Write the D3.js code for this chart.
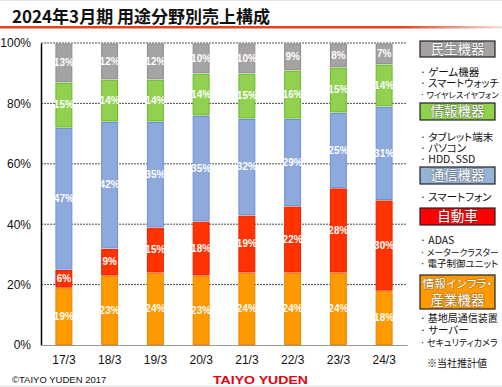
<!DOCTYPE html>
<html>
<head>
<meta charset="utf-8">
<script src="https://cdn.jsdelivr.net/npm/d3@7"></script>
<style>
  html, body { margin: 0; padding: 0; background: #fff; }
  svg { display: block; }
  .jp { font-feature-settings: "palt"; }
</style>
</head>
<body>
<svg id="chart" width="502" height="387"></svg>
<script>
// -------------- DATA ----------------- //
const years = ["17/3", "18/3", "19/3", "20/3", "21/3", "22/3", "23/3", "24/3"];
// stacked bottom -> top
const infraShare    = [19, 23, 24, 23, 24, 24, 24, 18]; // 情報インフラ・産業機器
const autoShare     = [6, 9, 15, 18, 19, 22, 28, 30];   // 自動車
const commShare     = [47, 42, 35, 35, 32, 29, 25, 31]; // 通信機器
const infoShare     = [15, 14, 14, 14, 15, 16, 15, 14]; // 情報機器
const consumerShare = [13, 12, 12, 10, 10, 9, 8, 7];    // 民生機器
const yTicks = [0, 20, 40, 60, 80, 100];

const legendGroups = [
  { key: "consumer", label: ["民生機器"], items: ["ゲーム機器", "スマートウォッチ", "ワイヤレスイヤフォン"] },
  { key: "info", label: ["情報機器"], items: ["タブレット端末", "パソコン", "HDD、SSD"] },
  { key: "comm", label: ["通信機器"], items: ["スマートフォン"] },
  { key: "auto", label: ["自動車"], items: ["ADAS", "メータークラスター", "電子制御ユニット"] },
  { key: "infra", label: ["情報インフラ・", "産業機器"], items: ["基地局通信装置", "サーバー", "セキュリティカメラ"] }
];

// -------------- STYLE ----------------- //
const series = [
  { key: "infra", values: infraShare, fill: "#ff9900", stroke: "#f08400" },
  { key: "auto", values: autoShare, fill: "#ff3300", stroke: "#e82000" },
  { key: "comm", values: commShare, fill: "#8eaadc", stroke: "#6a90d6" },
  { key: "info", values: infoShare, fill: "#92d050", stroke: "#66b82a" },
  { key: "consumer", values: consumerShare, fill: "#a6a3a3", stroke: "#8f8b8b" }
];
const boxFill = { consumer: "#a6a2a2", info: "#8ed24c", comm: "#95b3d7", auto: "#ff0000", infra: "#ff9900" };

const FONT = "'Liberation Sans', Arial, 'Noto Sans CJK JP', sans-serif";
const JP = "'Noto Sans CJK JP', 'Liberation Sans', sans-serif";

const svg = d3.select("#chart");

// -------------- TITLE ----------------- //
svg.append("rect").attr("x", 0).attr("y", 0).attr("width", 502).attr("height", 1).attr("fill", "#e4e4e4");
svg.append("text")
  .attr("x", 12).attr("y", 23)
  .attr("font-family", JP).attr("font-size", 17).attr("font-weight", "bold")
  .attr("fill", "#111")
  .text("2024年3月期 用途分野別売上構成");

const grad = svg.append("defs").append("linearGradient").attr("id", "titleLine");
grad.append("stop").attr("offset", "0").attr("stop-color", "#e2421e");
grad.append("stop").attr("offset", "0.8").attr("stop-color", "#e2421e");
grad.append("stop").attr("offset", "1").attr("stop-color", "#eee2de");
svg.append("rect").attr("x", 0).attr("y", 26).attr("width", 502).attr("height", 2.5).attr("fill", "url(#titleLine)");

// -------------- SCALES ----------------- //
const x = d3.scaleBand().domain(years).range([41, 407]).paddingInner(0.63).paddingOuter(0.315);
const y = d3.scaleLinear().domain([0, 100]).range([345, 43]);

// gridlines
svg.append("g").selectAll("line")
  .data(yTicks.filter(d => d > 0))
  .join("line")
  .attr("x1", 41).attr("x2", 407)
  .attr("y1", d => y(d)).attr("y2", d => y(d))
  .attr("stroke", "#222").attr("stroke-width", 0.8).attr("stroke-dasharray", "2,1");

// -------------- BARS ----------------- //
const stacked = years.map((yr, i) => {
  let cum = 0;
  return series.map(s => {
    const seg = { year: yr, key: s.key, v: s.values[i], y0: cum, y1: cum + s.values[i], fill: s.fill, stroke: s.stroke };
    cum += s.values[i];
    return seg;
  });
}).flat();

const bw = x.bandwidth();
svg.append("g").selectAll("rect")
  .data(stacked)
  .join("rect")
  .attr("x", d => x(d.year) + 0.5)
  .attr("width", bw - 1)
  .attr("y", d => y(d.y1) + 1)
  .attr("height", d => Math.max(0, y(d.y0) - y(d.y1) - 1.5))
  .attr("fill", d => d.fill)
  .attr("stroke", d => d.stroke)
  .attr("stroke-width", 1);

svg.append("g").selectAll("text")
  .data(stacked)
  .join("text")
  .attr("x", d => x(d.year) + bw / 2)
  .attr("y", d => (y(d.y0) + y(d.y1)) / 2)
  .attr("dy", "0.35em")
  .attr("text-anchor", "middle")
  .attr("font-family", FONT).attr("font-size", 10).attr("font-weight", "bold")
  .attr("fill", "#fff")
  .text(d => d.v + "%");

// -------------- AXES ----------------- //
const yAxis = svg.append("g")
  .attr("transform", "translate(41,0)")
  .call(d3.axisLeft(y).tickValues(yTicks).tickFormat(d => d + "%").tickSize(0).tickPadding(10));
yAxis.select(".domain").attr("stroke", "#000").attr("stroke-width", 1.5);
yAxis.selectAll("text").attr("font-family", FONT).attr("font-size", 12).attr("fill", "#111");

const xAxis = svg.append("g")
  .attr("transform", "translate(0,345)")
  .call(d3.axisBottom(x).tickSize(0).tickPadding(10));
xAxis.select(".domain").attr("stroke", "#999").attr("stroke-width", 1.2);
xAxis.selectAll("text").attr("font-family", FONT).attr("font-size", 12).attr("fill", "#111");

// -------------- LEGEND ----------------- //
const boxY = { consumer: 41, info: 103, comm: 167, auto: 208, infra: 275 };
const boxH = { consumer: 16, info: 17, comm: 17, auto: 17, infra: 34 };
const itemY = {
  consumer: [76, 87, 98],
  info: [141, 152, 163],
  comm: [201],
  auto: [244, 256, 267],
  infra: [322, 334, 346]
};

// shrink the font until the text fits the given width
function fitText(t, size, maxW) {
  let fs = size;
  t.attr("font-size", fs);
  while (t.node().getComputedTextLength() > maxW && fs > 6) {
    fs -= 0.25;
    t.attr("font-size", fs);
  }
}

const legend = svg.append("g");
legendGroups.forEach(g => {
  legend.append("rect")
    .attr("x", 420).attr("y", boxY[g.key])
    .attr("width", 75).attr("height", boxH[g.key])
    .attr("fill", boxFill[g.key])
    .attr("stroke", "#222").attr("stroke-width", 1.2);
  g.label.forEach((line, j) => {
    const lineY = g.label.length === 1
      ? boxY[g.key] + boxH[g.key] / 2
      : boxY[g.key] + 9 + j * 16;
    const t = legend.append("text")
      .attr("class", "jp")
      .attr("x", 457.5).attr("y", lineY).attr("dy", "0.36em")
      .attr("text-anchor", "middle")
      .attr("font-family", JP)
      .attr("fill", "#fff")
      .attr("stroke", "rgba(60,60,60,0.45)").attr("stroke-width", 1.2)
      .attr("paint-order", "stroke")
      .text(line);
    fitText(t, 13.5, 70);
  });
  g.items.forEach((item, j) => {
    const t = legend.append("text")
      .attr("class", "jp")
      .attr("x", 420).attr("y", itemY[g.key][j])
      .attr("font-family", JP).attr("fill", "#111")
      .text("· " + item);
    fitText(t, 10.5, 79);
  });
});

legend.append("text")
  .attr("class", "jp")
  .attr("x", 427).attr("y", 367)
  .attr("font-family", JP).attr("font-size", 10).attr("fill", "#111")
  .text("※当社推計値");

// -------------- FOOTER ----------------- //
svg.append("text")
  .attr("x", 12).attr("y", 383)
  .attr("font-family", FONT).attr("font-size", 9.5).attr("fill", "#111")
  .text("©TAIYO YUDEN 2017");

svg.append("text")
  .attr("x", 213).attr("y", 384)
  .attr("font-family", FONT).attr("font-size", 11.5).attr("font-weight", "bold")
  .attr("fill", "#e60012")
  .attr("textLength", 95).attr("lengthAdjust", "spacingAndGlyphs")
  .text("TAIYO YUDEN");

svg.append("rect").attr("x", 0).attr("y", 385).attr("width", 502).attr("height", 2).attr("fill", "#eeeeee");
</script>
</body>
</html>
